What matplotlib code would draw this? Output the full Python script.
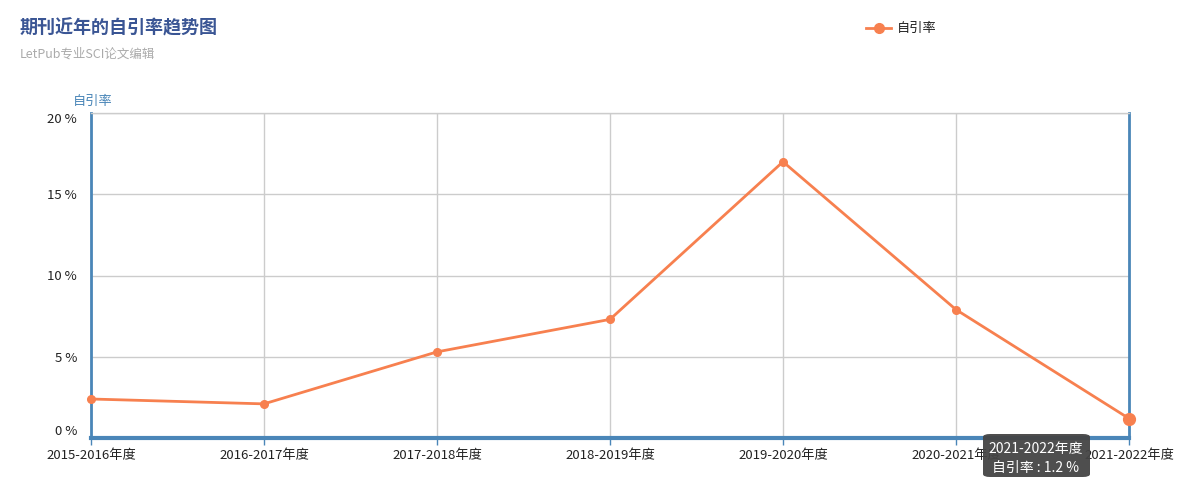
import matplotlib.pyplot as plt
from matplotlib.patches import FancyBboxPatch

plt.rcParams['font.family'] = ['Noto Sans CJK SC', 'DejaVu Sans']

years = ['2015-2016年度', '2016-2017年度', '2017-2018年度', '2018-2019年度',
         '2019-2020年度', '2020-2021年度', '2021-2022年度']
rate = [2.4, 2.1, 5.3, 7.3, 17.0, 7.9, 1.2]
yticks = [0, 5, 10, 15, 20]

orange = '#f7804f'
blue = '#4a86b8'

fig = plt.figure(figsize=(11.9, 4.92), dpi=100)
ax = fig.add_axes([91/1190, 1-438/492, (1129-91)/1190, (438-113)/492])

x = list(range(len(years)))
ax.plot(x, rate, color=orange, lw=2, marker='o', ms=5.5, zorder=3, clip_on=False)
# hovered point is drawn bigger
ax.plot(x[-1], rate[-1], 'o', color=orange, ms=8.5, zorder=4, clip_on=False)

ax.set_xlim(0, len(years) - 1)
ax.set_ylim(0, 20)
ax.set_xticks(x)
ax.set_xticklabels(years, fontsize=9.5, color='#222222')
ax.set_yticks(yticks)
ax.set_yticklabels([f'{v} %' for v in yticks], fontsize=9.5, color='#222222')
labs = ax.get_yticklabels()
labs[0].set_va('bottom')
labs[-1].set_va('top')
ax.tick_params(axis='y', length=0, pad=10)
ax.tick_params(axis='x', length=5, width=1, color=blue, pad=3)
ax.grid(True, color='#cccccc', lw=1)
ax.set_axisbelow(True)

for s in ['left', 'right']:
    ax.spines[s].set_color(blue)
    ax.spines[s].set_linewidth(2)
ax.spines['bottom'].set_color(blue)
ax.spines['bottom'].set_linewidth(3)
ax.spines['top'].set_color('#cccccc')
ax.spines['top'].set_linewidth(1)

fig.text(73/1190, 1-101/492, '自引率', fontsize=9.5, color=blue, va='center')

fig.text(20/1190, 1-28/492, '期刊近年的自引率趋势图', fontsize=13, fontweight='heavy',
         color='#3a5594', va='center')
fig.text(20/1190, 1-54/492, 'LetPub专业SCI论文编辑', fontsize=9, color='#aaaaaa', va='center')

# legend: short dashes either side of the marker
ly = 1 - 28/492
fig.add_artist(plt.Line2D([866/1190, 873/1190], [ly, ly], color=orange, lw=2))
fig.add_artist(plt.Line2D([884/1190, 891/1190], [ly, ly], color=orange, lw=2))
fig.add_artist(plt.Line2D([878.5/1190], [ly], color=orange, marker='o', ms=7))
fig.text(897/1190, ly, '自引率', fontsize=9.5, color='#222222', va='center')

# tooltip
box = FancyBboxPatch((983/1190, 1-477/492), (1090-983)/1190, (477-434)/492,
                     boxstyle='round,pad=0,rounding_size=0.006', transform=fig.transFigure,
                     facecolor='#444444', edgecolor='none', alpha=0.95, zorder=10)
fig.add_artist(box)
fig.text(1036/1190, 1-449/492, years[-1], fontsize=10, color='white', ha='center',
         va='center', zorder=11)
fig.text(1036/1190, 1-468/492, f'自引率 : {rate[-1]} %', fontsize=10, color='white',
         ha='center', va='center', zorder=11)

fig.savefig('out.png', dpi=100)
